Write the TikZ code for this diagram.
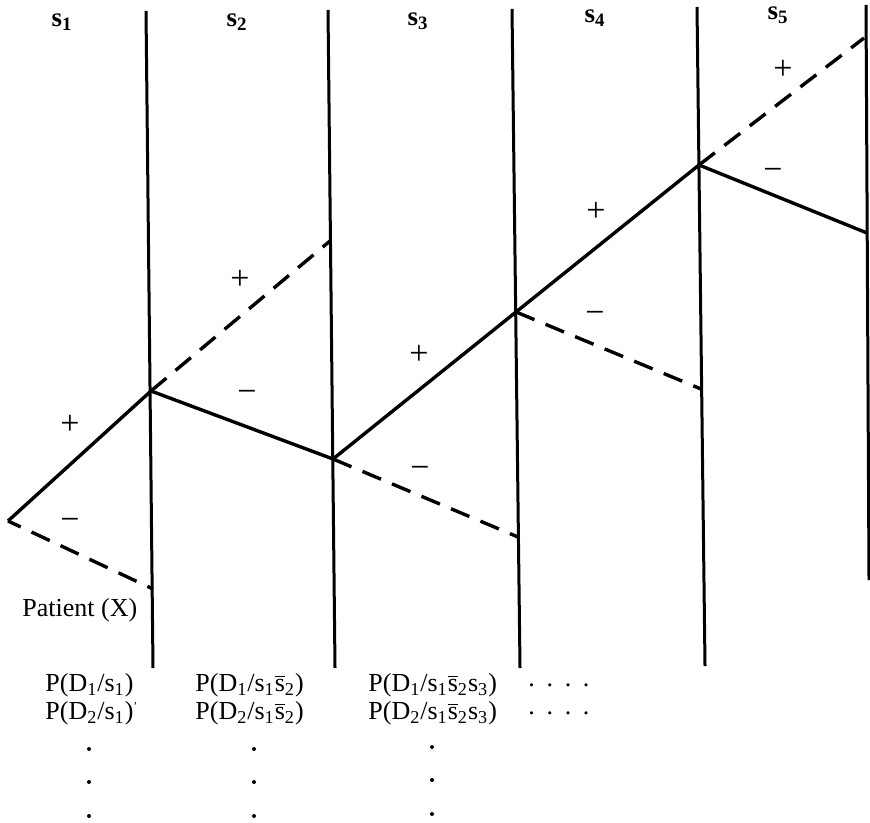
\documentclass[tikz,border=0pt]{standalone}
\usepackage{fontspec}
\setmainfont{Liberation Serif}
\newcommand{\sbar}{$\overline{\hbox{s}}$}

\begin{document}
\begin{tikzpicture}[x=0.5pt, y=-0.5pt,
    font=\fontsize{13}{15}\selectfont,
    v/.style={line width=1.5pt},
    yes/.style={line width=1.7pt},
    no/.style={line width=1.7pt, dash pattern=on 10pt off 6pt},
    lbl/.style={font=\fontsize{13.5}{15}\selectfont\bfseries, inner sep=0pt},
    sg/.style={inner sep=0pt, font=\fontsize{17}{17}\selectfont},
    txt/.style={anchor=west, inner sep=0pt},
    dot/.style={fill=black}]
    \useasboundingbox (0,0) rectangle (870,822);
    % stage lines
    \coordinate (t1) at (146,11); \coordinate (u1) at (153,668);
    \coordinate (t2) at (328,10); \coordinate (u2) at (335,668);
    \coordinate (t3) at (512,9);  \coordinate (u3) at (520,668);
    \coordinate (t4) at (697,7);  \coordinate (u4) at (705,666);
    \coordinate (t5) at (866,5);  \coordinate (u5) at (869,580);
    \draw[v] (t1) -- (u1); \draw[v] (t2) -- (u2); \draw[v] (t3) -- (u3);
    \draw[v] (t4) -- (u4); \draw[v] (t5) -- (u5);
    \node[lbl] (s1) at (62,22) {s\textsubscript{1}};
    \node[lbl] (s2) at (237,22) {s\textsubscript{2}};
    \node[lbl] (s3) at (418,21) {s\textsubscript{3}};
    \node[lbl] (s4) at (595,18) {s\textsubscript{4}};
    \node[lbl] (s5) at (778,15) {s\textsubscript{5}};
    % branch points
    \coordinate (r) at (8,521);
    \coordinate (p1) at (151,391); \coordinate (m1) at (153,589);
    \coordinate (p2) at (330,241); \coordinate (q2) at (333,459);
    \coordinate (p3) at (516,312); \coordinate (m3) at (518,537);
    \coordinate (p4) at (699,165); \coordinate (m4) at (701,389);
    \coordinate (p5) at (864,38);  \coordinate (m5) at (867,233);
    \draw[yes] (r) -- (p1); \draw[no, dash phase=3pt] (r) -- (m1);
    \draw[no] (p1) -- (p2); \draw[yes] (p1) -- (q2);
    \draw[yes] (q2) -- (p3); \draw[no] (q2) -- (m3);
    \draw[yes] (p3) -- (p4); \draw[no] (p3) -- (m4);
    \draw[no] (p4) -- (p5); \draw[yes] (p4) -- (m5);
    % signs
    \node[sg] at (70,425) {+};  \node[sg] at (70,524) {−};
    \node[sg] at (240,280) {+}; \node[sg] at (247,396) {−};
    \node[sg] at (419,355) {+}; \node[sg] at (420,472) {−};
    \node[sg] at (596,212) {+}; \node[sg] at (595,317) {−};
    \node[sg] at (783,70) {+};  \node[sg] at (773,174) {−};
    \node[txt] (pat) at (22,610) {Patient (X)};
    % probabilities
    \node[txt] (a1) at (45,685) {P(D\textsubscript{1}/s\textsubscript{1})};
    \node[txt] (a2) at (45,713) {P(D\textsubscript{2}/s\textsubscript{1})\raisebox{0.7ex}{\fontsize{6}{6}\selectfont'}};
    \node[txt] (b1) at (195,685) {P(D\textsubscript{1}/s\textsubscript{1}\sbar\textsubscript{2})};
    \node[txt] (b2) at (195,713) {P(D\textsubscript{2}/s\textsubscript{1}\sbar\textsubscript{2})};
    \node[txt] (c1) at (368,685) {P(D\textsubscript{1}/s\textsubscript{1}\sbar\textsubscript{2}s\textsubscript{3})};
    \node[txt] (c2) at (368,713) {P(D\textsubscript{2}/s\textsubscript{1}\sbar\textsubscript{2}s\textsubscript{3})};
    \node[txt] (d1) at (528,685) {.\hspace{0.45em}.\hspace{0.45em}.\hspace{0.45em}.};
    \node[txt] (d2) at (528,713) {.\hspace{0.45em}.\hspace{0.45em}.\hspace{0.45em}.};
    \fill[dot] (89,749) circle (1pt) (89,782) circle (1pt) (89,816) circle (1pt);
    \fill[dot] (254,749) circle (1pt) (254,782) circle (1pt) (254,816) circle (1pt);
    \fill[dot] (432,747) circle (1pt) (432,780) circle (1pt) (432,814) circle (1pt);
\end{tikzpicture}
\end{document}
